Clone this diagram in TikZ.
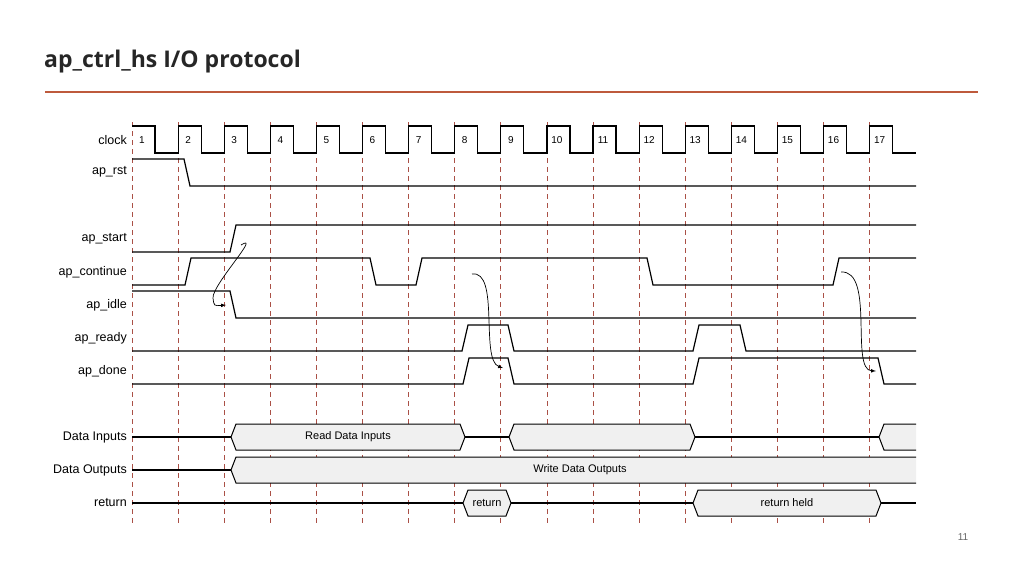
\documentclass[tikz,border=0pt]{standalone}
\usepackage{fontspec}
\setmainfont{Liberation Sans}
\newfontfamily\titlefont{Open Sans}
\usetikzlibrary{calc}

\definecolor{gridred}{RGB}{170,80,70}
\definecolor{rulered}{RGB}{190,90,60}
\definecolor{busfill}{RGB}{240,240,240}

\tikzset{
    sig/.style={line width=1.2pt},
    gridline/.style={gridred,line width=0.8pt,dash pattern=on 5pt off 4pt},
    siglabel/.style={anchor=east,font=\fontsize{12.5}{13}\selectfont,inner sep=0pt},
    buslabel/.style={font=\fontsize{11}{12}\selectfont,inner sep=0pt},
    bus/.style={fill=busfill,draw,line width=1pt},
}

% Hexagonal bus cell: x1, x2, y centre, text, node name.
\newcommand{\buscell}[5]{%
    \draw[bus] (#1,#3) -- (#1+5,#3-13) -- (#2-5,#3-13) -- (#2,#3)
        -- (#2-5,#3+13) -- (#1+5,#3+13) -- cycle;
    \node[buslabel] (#5) at ($(#1,#3)!0.5!(#2,#3)$) {#4};
}

\begin{document}
\begin{tikzpicture}[x=1pt,y=-1pt]
\useasboundingbox (0,0) rectangle (1024,576);

% Title and rule.
\node[anchor=west,inner sep=0pt,font=\titlefont\bfseries\fontsize{23}{25}\selectfont,text=black!85]
    (title) at (44,62) {ap\_ctrl\_hs I/O protocol};
\draw[rulered,line width=1.2pt] (45,92) coordinate (ruleL) -- (978,92) coordinate (ruleR);
\node[font=\fontsize{10}{10}\selectfont,text=black!60] (pagenum) at (963,537) {11};

% Grid of clock edges.
\foreach \k in {0,...,16} {
    \draw[gridline] (132+\k*46.1,122) -- (132+\k*46.1,525);
}

% Clock.
\draw[sig] (132,126)
    \foreach \k in {1,...,16} { -- ++(23,0) -- ++(0,27) -- ++(23.1,0) -- ++(0,-27) }
    -- ++(23,0) -- ++(0,27) -- (916,153);
\foreach \k in {1,...,17} {
    \node[font=\fontsize{10}{10}\selectfont,inner sep=0pt] (cyc\k) at (132+\k*46.1-46.1+10,140) {\k};
}

% Signal labels.
\foreach \n/\y/\t in {clk/140/clock, rst/172/ap\_rst, start/239/ap\_start,
    cont/272/ap\_continue, idle/305/ap\_idle, ready/338/ap\_ready,
    done/371/ap\_done, din/437/Data Inputs, dout/470/Data Outputs,
    ret/503/return} {
    \node[siglabel] (lab\n) at (127,\y) {\t};
}

% Control waveforms.
\draw[sig] (132,159) -- (184,159) -- (190,186) -- (916,186);
\draw[sig] (132,252) -- (230,252) -- (236,225) -- (916,225);
\draw[sig] (132,285) -- (185,285) -- (191,258) -- (370,258) -- (376,285)
    -- (416,285) -- (422,258) -- (647,258) -- (653,285) -- (833,285)
    -- (839,258) -- (916,258);
\draw[sig] (132,291) -- (230,291) -- (236,318) -- (916,318);
\draw[sig] (132,351) -- (462,351) -- (468,325) -- (508,325) -- (514,351)
    -- (693,351) -- (699,325) -- (740,325) -- (746,351) -- (916,351);
\draw[sig] (132,384) -- (463,384) -- (469,358) -- (508,358) -- (514,384)
    -- (693,384) -- (699,358) -- (878,358) -- (884,384) -- (916,384);

% Handshake arrows.
\coordinate (startEdge) at (241,245);
\coordinate (idleHit) at (226,305);
\draw[-latex,line width=0.7pt] (startEdge) .. controls (262,232) and (212,285) .. (213,298)
    .. controls (214,306) .. (idleHit);
\coordinate (contEdgeA) at (472,274);
\coordinate (doneHitA) at (503,368);
\draw[-latex,line width=0.7pt] (contEdgeA) .. controls (500,270) and (480,360) .. (doneHitA);
\coordinate (contEdgeB) at (841,272);
\coordinate (doneHitB) at (876,371);
\draw[-latex,line width=0.7pt] (contEdgeB) .. controls (875,270) and (850,370) .. (doneHitB);

% Bus lines.
\draw[sig] (132,437) -- (916,437);
\draw[sig] (132,470) -- (231,470);
\draw[sig] (132,503) -- (916,503);
\buscell{231}{465}{437}{Read Data Inputs}{rdin}
\buscell{509}{695}{437}{}{rdin2}
\draw[bus] (916,424) -- (884,424) -- (879,437) -- (884,450) -- (916,450);
\draw[bus] (916,457) -- (236,457) -- (231,470) -- (236,483) -- (916,483);
\node[buslabel] (wrout) at (580,470) {Write Data Outputs};
\buscell{463}{511}{503}{return}{retA}
\buscell{693}{881}{503}{return held}{retB}
\end{tikzpicture}
\end{document}
